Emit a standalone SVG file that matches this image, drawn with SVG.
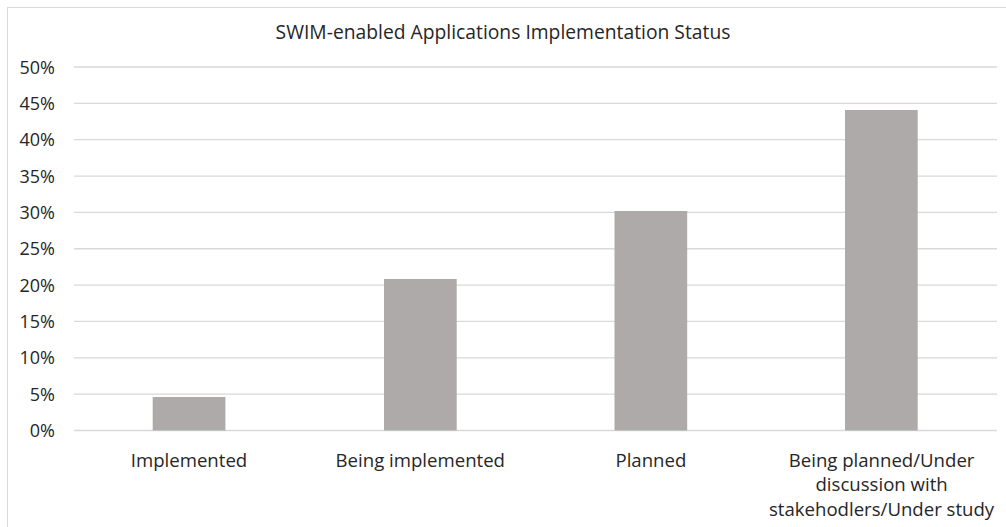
<svg xmlns="http://www.w3.org/2000/svg" width="1006" height="527" viewBox="0 0 1006 527">
<style>
text{font-family:"Open Sans","Liberation Sans",Arial,sans-serif;fill:#262626;}
.y{font-size:18px;text-anchor:end;}
.x{font-size:18.6px;text-anchor:middle;}
.g{stroke:#d9d9d9;stroke-width:1.3;}
.bar{fill:#aeaaaa;}
</style>
<rect x="7.5" y="7.5" width="1010" height="530" fill="#fff" stroke="#d9d9d9" stroke-width="1"/>
<text x="503" y="38.5" style="font-size:19.3px;text-anchor:middle">SWIM-enabled Applications Implementation Status</text>
<g id="grid">
<line class="g" x1="74" y1="67" x2="997" y2="67"/>
<line class="g" x1="74" y1="103.35" x2="997" y2="103.35"/>
<line class="g" x1="74" y1="139.7" x2="997" y2="139.7"/>
<line class="g" x1="74" y1="176.05" x2="997" y2="176.05"/>
<line class="g" x1="74" y1="212.4" x2="997" y2="212.4"/>
<line class="g" x1="74" y1="248.75" x2="997" y2="248.75"/>
<line class="g" x1="74" y1="285.1" x2="997" y2="285.1"/>
<line class="g" x1="74" y1="321.45" x2="997" y2="321.45"/>
<line class="g" x1="74" y1="357.8" x2="997" y2="357.8"/>
<line class="g" x1="74" y1="394.15" x2="997" y2="394.15"/>
<line class="g" x1="74" y1="430.5" x2="997" y2="430.5"/>
</g>
<g id="yaxis">
<text class="y" x="55" y="73.5">50%</text>
<text class="y" x="55" y="109.9">45%</text>
<text class="y" x="55" y="146.2">40%</text>
<text class="y" x="55" y="182.5">35%</text>
<text class="y" x="55" y="218.9">30%</text>
<text class="y" x="55" y="255.2">25%</text>
<text class="y" x="55" y="291.6">20%</text>
<text class="y" x="55" y="327.9">15%</text>
<text class="y" x="55" y="364.3">10%</text>
<text class="y" x="55" y="400.6">5%</text>
<text class="y" x="55" y="437">0%</text>
</g>
<g id="bar1"><rect class="bar" x="152.7" y="397" width="72.7" height="33.5"/><text class="x" x="189" y="466.5">Implemented</text></g>
<g id="bar2"><rect class="bar" x="384" y="279" width="72.7" height="151.5"/><text class="x" x="420.3" y="466.5">Being implemented</text></g>
<g id="bar3"><rect class="bar" x="614.5" y="211" width="72.7" height="219.5"/><text class="x" x="650.9" y="466.5">Planned</text></g>
<g id="bar4"><rect class="bar" x="845" y="110" width="72.7" height="320.5"/><text class="x" x="881.6" y="466.5">Being planned/Under</text><text class="x" x="881.6" y="491">discussion with</text><text class="x" x="881.6" y="515.5">stakehodlers/Under study</text></g>
</svg>
